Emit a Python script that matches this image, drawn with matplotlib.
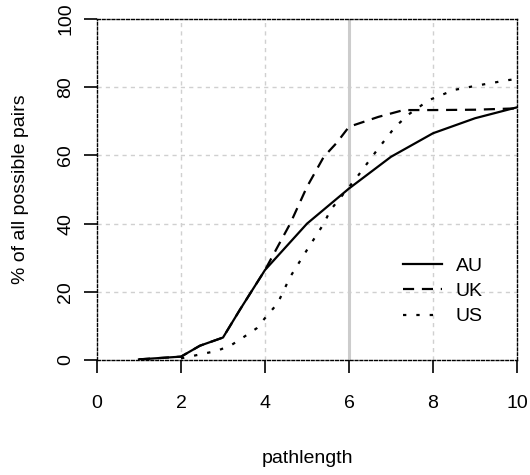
import matplotlib
matplotlib.use("Agg")
import matplotlib.pyplot as plt

plt.rcParams['font.family'] = ['Liberation Sans', 'DejaVu Sans']

# share of reachable pairs by path length
au_x = [1.0, 2.0, 2.45, 3.0, 3.4, 4.0, 5.0, 6.0, 7.0, 8.0, 9.0, 10.0]
au_y = [0.2, 1.0, 4.2, 6.6, 14.7, 26.4, 40.0, 50.3, 59.6, 66.5, 70.9, 74.1]

uk_x = [1.0, 2.0, 2.45, 3.0, 3.4, 4.0, 4.6, 5.0, 5.4, 5.7, 6.0, 6.7, 7.3, 8.0, 9.0, 10.0]
uk_y = [0.2, 1.0, 4.2, 6.6, 14.7, 26.4, 40.0, 50.8, 59.6, 63.6, 68.4, 71.3, 73.3, 73.3, 73.4, 73.8]

us_x = [2.0, 2.2, 2.86, 3.2, 3.5, 3.8, 4.06, 4.3, 4.6, 5.0, 5.4, 5.56, 6.2, 6.67, 7.1, 7.45, 7.9, 8.5, 9.1, 9.8, 10.0]
us_y = [0.5, 1.0, 2.7, 4.4, 6.8, 9.3, 13.2, 16.6, 24.4, 32.3, 40.0, 44.0, 53.8, 61.6, 68.4, 72.3, 76.2, 79.2, 80.6, 82.1, 82.4]

x_ticks = [0, 2, 4, 6, 8, 10]
y_ticks = [0, 20, 40, 60, 80, 100]

fig = plt.figure(figsize=(5.3, 4.75), dpi=100)
ax = fig.add_axes([0.183, 0.242, 0.7925, 0.718])

for g in [2, 4, 8]:
    ax.axvline(g, color='#d0d0d0', lw=1, ls=(0, (3, 3)), zorder=0)
for g in [20, 40, 60, 80]:
    ax.axhline(g, color='#d0d0d0', lw=1, ls=(0, (3, 3)), zorder=0)
ax.axvline(6, color='#cccccc', lw=2.2, zorder=1)

ax.plot(au_x, au_y, color='black', lw=1.6, ls='-', label='AU')
ax.plot(uk_x, uk_y, color='black', lw=1.6, ls=(0, (5, 3.5)), label='UK')
ax.plot(us_x, us_y, color='black', lw=1.6, ls=(0, (1.5, 4.5)), label='US')

ax.set_xlim(0, 10)
ax.set_ylim(0, 100)
ax.set_xticks(x_ticks)
ax.set_yticks(y_ticks)
ax.set_yticklabels([str(v) for v in y_ticks], rotation=90, va='center')
ax.tick_params(direction='out', length=9.5, width=1.2, labelsize=14)
ax.tick_params(axis='x', pad=16)
ax.tick_params(axis='y', pad=7)

for s in ax.spines.values():
    s.set_linestyle((0, (2, 1.5)))
    s.set_linewidth(1)

ax.set_xlabel('pathlength', fontsize=14, labelpad=27)
ax.set_ylabel('% of all possible pairs', fontsize=14, labelpad=20)

ax.legend(loc='lower right', bbox_to_anchor=(0.96, 0.05), frameon=False,
          fontsize=14, handlelength=2.0, handletextpad=0.7, labelspacing=0.4)

fig.savefig('out.png', dpi=100)
